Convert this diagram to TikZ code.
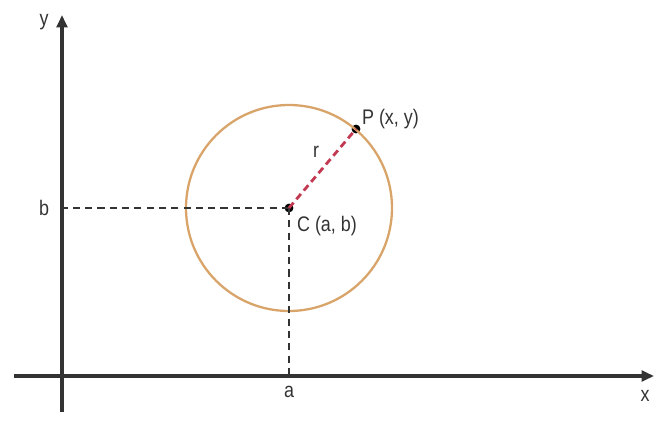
\documentclass[tikz,border=0pt]{standalone}
\usepackage{fontspec}
\setmainfont{Liberation Sans}[FakeStretch=0.85]
\definecolor{circletan}{HTML}{D9A46A}
\definecolor{radiusred}{HTML}{C23A52}
\definecolor{axisgray}{HTML}{333333}
\usetikzlibrary{arrows.meta,positioning}
\begin{document}
\begin{tikzpicture}[x=0.02cm, y=0.02cm,
  axis/.style={-{Triangle[length=7pt,width=6pt]}, axisgray, line width=1.8pt},
  guide/.style={dash pattern=on 4pt off 3pt, axisgray, line width=0.8pt},
  lbl/.style={font=\large, text=axisgray, inner sep=1pt},
  dot/.style={circle, fill=black, inner sep=0pt, minimum size=5pt}
]
  \useasboundingbox (0,0) rectangle (656,424);
  % axes
  \coordinate (ybot) at (62,12);
  \coordinate (ytop) at (62,409);
  \coordinate (xleft) at (14,48);
  \coordinate (xright) at (654,48);
  \draw[axis] (ybot) -- (ytop);
  \draw[axis] (xleft) -- (xright);
  % circle and points
  \node[dot] (c) at (289,216) {};
  \node[dot] (p) at (356,295) {};
  \draw[circletan, line width=1.3pt] (c.center) circle (103);
  \coordinate (bmark) at (62,216);
  \coordinate (amark) at (289,48);
  \draw[guide] (c.center) -- (bmark);
  \draw[guide] (c.center) -- (amark);
  \draw[radiusred, dash pattern=on 4pt off 2.5pt, line width=1.6pt] (c.center) -- (p.center);
  % labels
  \node[lbl] (ylbl) at (44,402) {y};
  \node[lbl] (xlbl) at (645,28) {x};
  \node[lbl] (blbl) at (44,216) {b};
  \node[lbl] (albl) at (289,32) {a};
  \node[lbl] (rlbl) at (316,272) {r};
  \node[lbl, anchor=west] (plbl) at (360,305) {P (x, y)};
  \node[lbl, anchor=west] (clbl) at (295,198) {C (a, b)};
\end{tikzpicture}
\end{document}
